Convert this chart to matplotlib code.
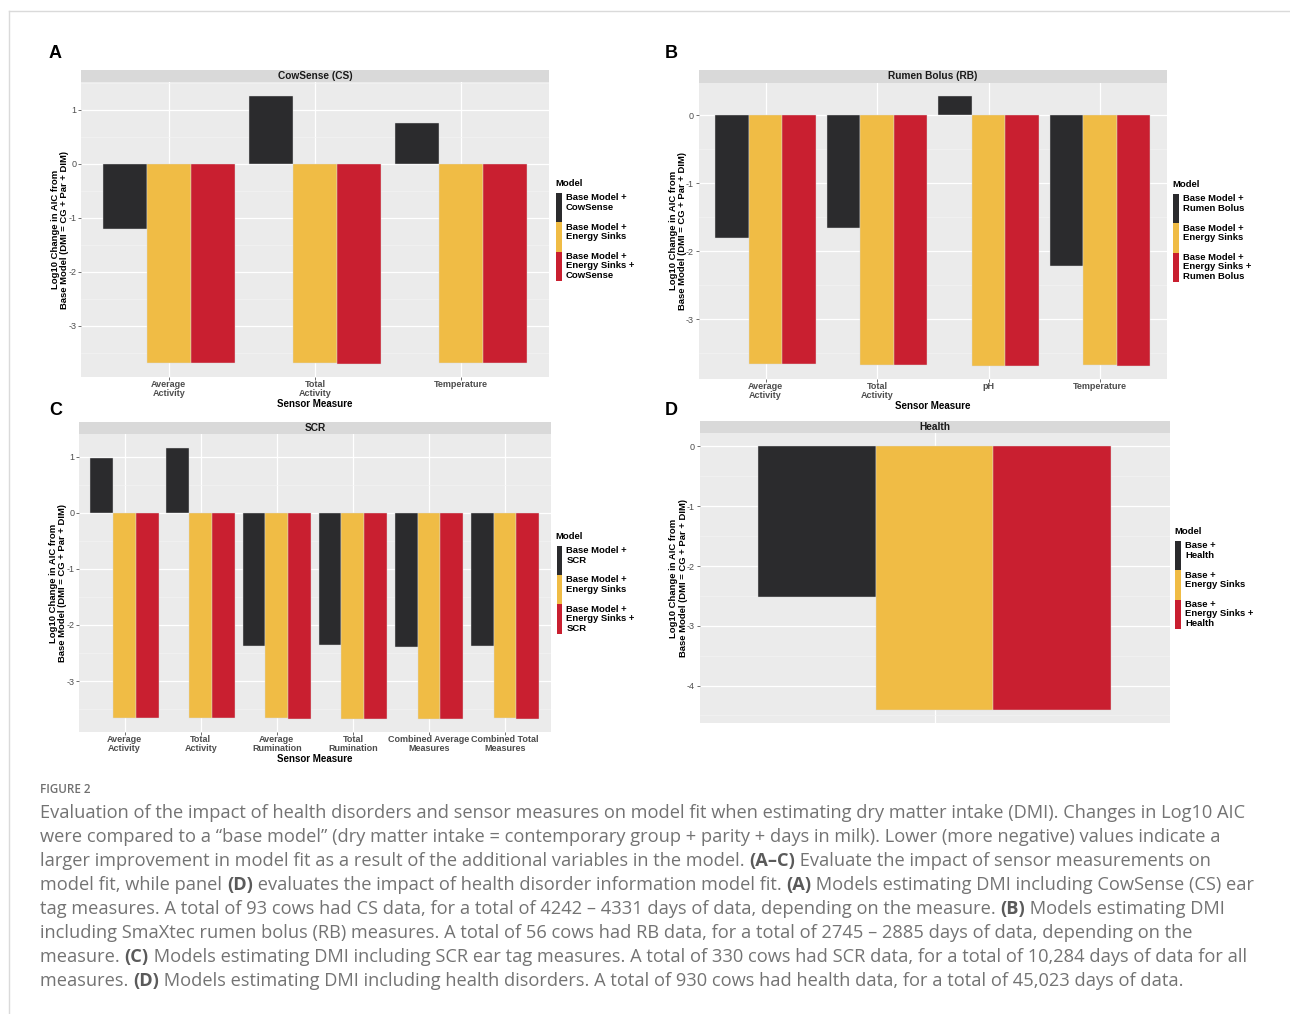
import numpy as np
import matplotlib
matplotlib.use('Agg')
import matplotlib.pyplot as plt
from matplotlib.patches import Rectangle
from matplotlib.font_manager import FontProperties

plt.rcParams['font.family'] = ['Liberation Sans', 'DejaVu Sans']

# ---- data ----
cs_cats = ['Average\nActivity', 'Total\nActivity', 'Temperature']
cs_base = [-1.21, 1.26, 0.76]
cs_energy = [-3.70, -3.70, -3.69]
cs_energy_cs = [-3.70, -3.71, -3.69]

rb_cats = ['Average\nActivity', 'Total\nActivity', 'pH', 'Temperature']
rb_base = [-1.80, -1.66, 0.28, -2.21]
rb_energy = [-3.66, -3.67, -3.68, -3.67]
rb_energy_rb = [-3.66, -3.67, -3.68, -3.68]

scr_cats = ['Average\nActivity', 'Total\nActivity', 'Average\nRumination',
            'Total\nRumination', 'Combined Average\nMeasures', 'Combined Total\nMeasures']
scr_base = [0.97, 1.16, -2.37, -2.36, -2.39, -2.37]
scr_energy = [-3.66, -3.66, -3.66, -3.67, -3.67, -3.66]
scr_energy_scr = [-3.66, -3.66, -3.67, -3.67, -3.67, -3.67]

health_cats = ['']
health_base = [-2.52]
health_energy = [-4.41]
health_energy_health = [-4.41]

cs_labels = ['Base Model +\nCowSense', 'Base Model +\nEnergy Sinks', 'Base Model +\nEnergy Sinks +\nCowSense']
rb_labels = ['Base Model +\nRumen Bolus', 'Base Model +\nEnergy Sinks', 'Base Model +\nEnergy Sinks +\nRumen Bolus']
scr_labels = ['Base Model +\nSCR', 'Base Model +\nEnergy Sinks', 'Base Model +\nEnergy Sinks +\nSCR']
health_labels = ['Base +\nHealth', 'Base +\nEnergy Sinks', 'Base +\nEnergy Sinks +\nHealth']

colors = ['#2b2b2d', '#f0bc45', '#c91f30']
ylab = 'Log10 Change in AIC from\nBase Model (DMI = CG + Par + DIM)'

W, H = 1290, 1014
fig = plt.figure(figsize=(W / 100, H / 100), dpi=100)


def fx(x):
    return x / W


def fy(y):
    return 1 - y / H


def draw_panel(l, t, r, b, title, cats, series, labels, letter, legend_xy, show_x=True):
    ax = fig.add_axes([fx(l), fy(b), (r - l) / W, (b - t) / H])
    n = len(cats)
    x = np.arange(n)
    w = 0.3
    for k, vals in enumerate(series):
        ax.bar(x + (k - 1) * w, vals, width=w, color=colors[k],
               edgecolor='#dcdcdc', linewidth=0.3, zorder=3)
    allv = np.concatenate([np.array(s) for s in series] + [np.array([0.0])])
    lo, hi = allv.min(), allv.max()
    pad = 0.05 * (hi - lo)
    ax.set_ylim(lo - pad, hi + pad)
    ax.set_xlim(-0.6, n - 0.4)
    ax.set_facecolor('#ebebeb')
    for s in ax.spines.values():
        s.set_visible(False)
    major = np.arange(np.ceil(lo - pad), np.floor(hi + pad) + 1)
    ax.set_yticks(major)
    ax.set_yticklabels(['%d' % v for v in major])
    ax.set_yticks(np.arange(np.ceil(lo - pad) - 0.5, hi + pad, 1.0), minor=True)
    ax.set_xticks(x)
    ax.set_xticklabels(cats, fontsize=6.5, fontweight='bold', color='#4d4d4d', linespacing=0.95)
    ax.grid(which='major', color='white', linewidth=0.9)
    ax.grid(which='minor', axis='y', color='#f4f4f4', linewidth=0.45)
    ax.set_axisbelow(True)
    ax.tick_params(axis='y', which='major', length=2, width=0.5, color='#333333',
                   labelsize=6.5, labelcolor='#4d4d4d', pad=1.5)
    ax.tick_params(axis='x', which='major', length=2, width=0.5, color='#333333', pad=0.3)
    ax.tick_params(which='minor', length=0)
    if not show_x:
        ax.tick_params(axis='x', length=0, labelbottom=False)

    # facet strip
    sh = 12.5 / (b - t)
    ax.add_patch(Rectangle((0, 1), 1, sh, transform=ax.transAxes, clip_on=False,
                           facecolor='#d9d9d9', edgecolor='none'))
    ax.text(0.5, 1 + sh / 2, title, transform=ax.transAxes, ha='center', va='center',
            fontsize=7.3, fontweight='bold', color='#1a1a1a')

    # axis titles
    fig.text(fx(l - 21), fy((t + b) / 2), ylab, rotation=90, ha='center', va='center',
             fontsize=6.8, fontweight='bold', multialignment='center', linespacing=1.05)
    if show_x:
        fig.text(fx((l + r) / 2), fy(b + 27), 'Sensor Measure', ha='center', va='center',
                 fontsize=7, fontweight='bold')

    # panel letter
    fig.text(fx(letter[0]), fy(letter[1]), letter[2], ha='center', va='center',
             fontsize=13, fontweight='bold')

    # legend
    lx, ly = legend_xy
    fig.text(fx(lx - 1), fy(ly - 9), 'Model', ha='left', va='center',
             fontsize=6.8, fontweight='bold')
    kh = 29.3
    for k, lab in enumerate(labels):
        top = ly + k * kh
        fig.patches.append(Rectangle((fx(lx), fy(top + kh)), 5.5 / W, kh / H,
                                     transform=fig.transFigure, facecolor=colors[k],
                                     edgecolor='none'))
        fig.text(fx(lx + 10), fy(top + 0.3), lab, ha='left', va='top', fontsize=6.8,
                 fontweight='bold', linespacing=1.08)
    return ax


draw_panel(81, 82.3, 549, 377.3, 'CowSense (CS)', cs_cats,
           [cs_base, cs_energy, cs_energy_cs], cs_labels, (55, 54, 'A'), (556, 193))
draw_panel(698.7, 82.7, 1167, 379, 'Rumen Bolus (RB)', rb_cats,
           [rb_base, rb_energy, rb_energy_rb], rb_labels, (671, 54, 'B'), (1173, 194))
draw_panel(79, 434, 550.7, 732.3, 'SCR', scr_cats,
           [scr_base, scr_energy, scr_energy_scr], scr_labels, (56, 410.7, 'C'), (556.5, 545.7))
draw_panel(699.5, 433.3, 1169.7, 723.3, 'Health', health_cats,
           [health_base, health_energy, health_energy_health], health_labels,
           (671, 410.7, 'D'), (1175, 541), show_x=False)

# frame lines of the page
fig.add_artist(plt.Line2D([fx(9), fx(W)], [fy(11), fy(11)], transform=fig.transFigure,
                          color='#dadada', linewidth=1))
fig.add_artist(plt.Line2D([fx(9), fx(9)], [fy(11), fy(H)], transform=fig.transFigure,
                          color='#dadada', linewidth=1))

# ---- caption ----
caption = [
    [('Evaluation of the impact of health disorders and sensor measures on model fit when estimating dry matter intake (DMI). Changes in Log10 AIC', False)],
    [('were compared to a \u201cbase model\u201d (dry matter intake = contemporary group + parity + days in milk). Lower (more negative) values indicate a', False)],
    [('larger improvement in model fit as a result of the additional variables in the model. ', False), ('(A\u2013C)', True),
     (' Evaluate the impact of sensor measurements on', False)],
    [('model fit, while panel ', False), ('(D)', True),
     (' evaluates the impact of health disorder information model fit. ', False), ('(A)', True),
     (' Models estimating DMI including CowSense (CS) ear', False)],
    [('tag measures. A total of 93 cows had CS data, for a total of 4242 \u2013 4331 days of data, depending on the measure. ', False),
     ('(B)', True), (' Models estimating DMI', False)],
    [('including SmaXtec rumen bolus (RB) measures. A total of 56 cows had RB data, for a total of 2745 \u2013 2885 days of data, depending on the', False)],
    [('measure. ', False), ('(C)', True),
     (' Models estimating DMI including SCR ear tag measures. A total of 330 cows had SCR data, for a total of 10,284 days of data for all', False)],
    [('measures. ', False), ('(D)', True),
     (' Models estimating DMI including health disorders. A total of 930 cows had health data, for a total of 45,023 days of data.', False)],
]

renderer = fig.canvas.get_renderer()


def seg_width(s, fp):
    w1, _, _ = renderer.get_text_width_height_descent('|' + s + '|', fp, ismath=False)
    w0, _, _ = renderer.get_text_width_height_descent('||', fp, ismath=False)
    return w1 - w0


fp0 = FontProperties(family='Open Sans', size=10)
size = 10 * 1207 / seg_width(caption[0][0][0], fp0)
fp_reg = FontProperties(family='Open Sans', size=size)
fp_bold = FontProperties(family='Open Sans', size=size, weight='bold')

fig.text(fx(40), fy(793), 'FIGURE 2', ha='left', va='baseline', color='#707070',
         fontproperties=FontProperties(family='Open Sans', size=8.4, weight='semibold'))

for i, line in enumerate(caption):
    base = 818 + 24 * i
    xpos = 40.0
    for seg, bold in line:
        fp = fp_bold if bold else fp_reg
        fig.text(fx(xpos), fy(base), seg, ha='left', va='baseline',
                 color='#5a5a5a' if bold else '#737373', fontproperties=fp)
        xpos += seg_width(seg, fp)

fig.savefig('out.png', dpi=100, facecolor='white')
